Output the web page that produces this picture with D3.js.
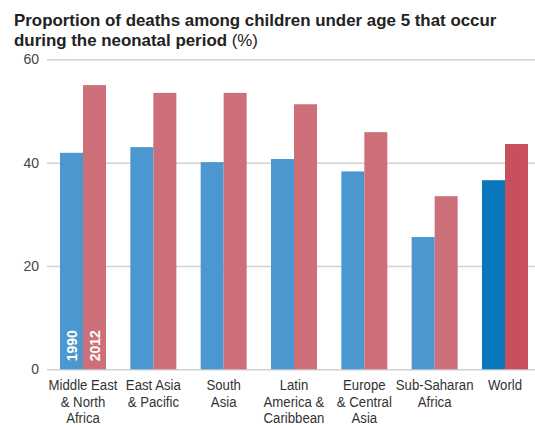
<!DOCTYPE html>
<html><head><meta charset="utf-8">
<script src="https://cdn.jsdelivr.net/npm/d3@7"></script>
<style>body{margin:0;background:#fff}svg{display:block}</style>
</head><body>
<svg id="c" width="535" height="425"></svg>
<script>
const categories = [
  ["Middle East", "& North", "Africa"],
  ["East Asia", "& Pacific"],
  ["South", "Asia"],
  ["Latin", "America &", "Caribbean"],
  ["Europe", "& Central", "Asia"],
  ["Sub-Saharan", "Africa"],
  ["World"]
];
const series = ["1990", "2012"];
const values1990 = [41.9, 43.0, 40.1, 40.7, 38.3, 25.6, 36.6];
const values2012 = [55.0, 53.5, 53.5, 51.3, 45.9, 33.5, 43.6];
const yTicks = [0, 20, 40, 60];

const svg = d3.select("#c");
const W = 535;
const y = d3.scaleLinear().domain([0, 60]).range([369.3, 59.3]);
const keys = categories.map(c => c.join(" "));
const x = d3.scaleBand().domain(keys).range([47, 541]).paddingInner(0.346).paddingOuter(0.185);
const xs = d3.scaleBand().domain(series).range([0, x.bandwidth()]);

// Title
const t = svg.append("text").attr("x", 14).attr("y", 26)
  .attr("font-family", "Liberation Sans, Arial, sans-serif").attr("font-size", 16.9)
  .attr("font-weight", "bold").attr("fill", "#222");
t.append("tspan").text("Proportion of deaths among children under age 5 that occur");
const t2 = svg.append("text").attr("x", 14).attr("y", 46)
  .attr("font-family", "Liberation Sans, Arial, sans-serif").attr("font-size", 16.9)
  .attr("fill", "#222");
t2.append("tspan").attr("font-weight", "bold").text("during the neonatal period ");
t2.append("tspan").text("(%)");

// Grid + y axis
const yAxis = d3.axisLeft(y).tickValues(yTicks).tickSize(-(W - 47)).tickPadding(8);
const ga = svg.append("g").attr("transform", "translate(47,0)").call(yAxis);
ga.select(".domain").remove();
ga.selectAll(".tick line").attr("stroke", "#d2d2d2").attr("stroke-width", 1.5);
ga.selectAll(".tick text").attr("font-family", "Liberation Sans, Arial, sans-serif")
  .attr("font-size", 14).attr("fill", "#444");

// Bars
const data = keys.map((k, i) => ({k, i, v: [values1990[i], values2012[i]]}));
const colors = {normal: ["#4b98d0", "#cc6f78"], world: ["#0a77bd", "#c8505e"]};
const g = svg.append("g");
data.forEach(d => {
  const isWorld = d.k === "World";
  series.forEach((s, j) => {
    g.append("rect")
      .attr("x", x(d.k) + xs(s)).attr("width", xs.bandwidth())
      .attr("y", y(d.v[j])).attr("height", y(0) - y(d.v[j]))
      .attr("fill", (isWorld ? colors.world : colors.normal)[j]);
  });
});

// Series labels inside first group
series.forEach(s => {
  const cx = x(keys[0]) + xs(s) + xs.bandwidth() / 2;
  svg.append("text")
    .attr("transform", `translate(${cx + 5},${y(0) - 8}) rotate(-90)`)
    .attr("font-family", "Liberation Sans, Arial, sans-serif").attr("font-size", 14)
    .attr("font-weight", "bold").attr("fill", "#fff").text(s);
});

// X labels
const xl = svg.append("g");
categories.forEach((lines, i) => {
  const cx = x(keys[i]) + x.bandwidth() / 2;
  const tx = xl.append("text").attr("text-anchor", "middle")
    .attr("transform", `translate(${cx},0) scale(0.91,1)`)
    .attr("font-family", "Liberation Sans, Arial, sans-serif").attr("font-size", 14.5)
    .attr("fill", "#333");
  lines.forEach((ln, k) => {
    tx.append("tspan").attr("x", 0).attr("y", 390.5 + k * 16.2).text(ln);
  });
});
</script>
</body></html>
